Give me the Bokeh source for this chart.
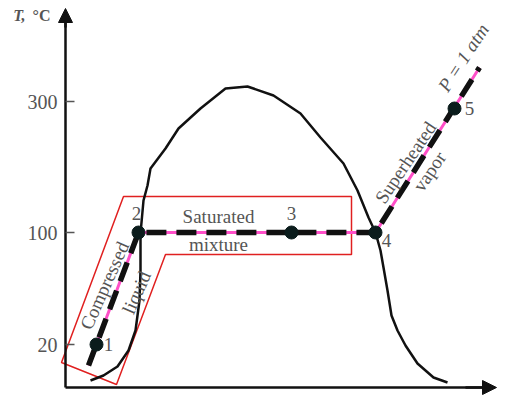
from bokeh.plotting import figure
from bokeh.models import Range1d, Label, Arrow, NormalHead, ColumnDataSource, FixedTicker, LinearAxis
from bokeh.core.properties import value
from bokeh.embed import file_html
from bokeh.resources import INLINE

# ---- data (schematic T-v diagram, water at P = 1 atm) ----
# temperature tick positions (schematic, non-linear axis) and their labels
t_tick_pos = [43, 155, 286]
t_tick_labels = ["20", "100", "300"]

# constant-pressure process line (P = 1 atm)
process_v = [23, 73, 310, 414]
process_T = [22, 155, 155, 320]

# states 1..5
state_v = [31, 73, 226, 310, 389]
state_T = [43, 155, 155, 155, 279]
state_names = ["1", "2", "3", "4", "5"]

# saturation dome
dome_v = [25, 38, 52, 63, 70, 74, 75, 75, 78, 82, 85, 100, 113, 135, 160, 182,
          208, 235, 255, 278, 292, 303, 310, 315, 318, 322, 326, 332, 340, 352, 368, 382]
dome_T = [7, 12, 21, 37, 57, 87, 117, 154, 187, 202, 219, 239, 259, 279, 299, 301,
          292, 274, 250, 224, 197, 170, 155, 137, 120, 97, 72, 57, 42, 24, 10, 5]

# highlighted region outline (compressed liquid + saturated mixture)
region_v = [58, 286, 286, 100, 51, -4]
region_T = [191, 191, 133, 133, 3, 25]

FONT = value("Liberation Serif")
GRAY = "#555555"
INK = "#111111"

p = figure(width=497, height=398, output_backend="svg", toolbar_location=None,
           x_range=Range1d(-65, 432), y_range=Range1d(-11, 387),
           x_axis_location=None, y_axis_location=None, min_border=0)
p.grid.visible = False
p.outline_line_color = None

# axes (placed at the origin of the schematic diagram)
yax = LinearAxis(fixed_location=0, bounds=(0, 372), ticker=FixedTicker(ticks=t_tick_pos))
yax.major_label_overrides = {pos: lab for pos, lab in zip(t_tick_pos, t_tick_labels)}
yax.major_label_text_font = "Liberation Serif"
yax.major_label_text_font_size = "20px"
yax.major_label_text_color = GRAY
yax.major_tick_in = 9
yax.major_tick_out = 0
yax.major_tick_line_color = GRAY
yax.major_tick_line_width = 1.5
yax.minor_tick_line_color = None
yax.major_label_standoff = 8
yax.axis_line_width = 2.5
yax.axis_line_color = INK
p.add_layout(yax, "left")

xax = LinearAxis(fixed_location=0, bounds=(0, 428), ticker=FixedTicker(ticks=[]))
xax.major_label_text_font_size = "0px"
xax.major_tick_line_color = None
xax.minor_tick_line_color = None
xax.axis_line_width = 2.5
xax.axis_line_color = INK
p.add_layout(xax, "below")

p.add_layout(Arrow(x_start=0, y_start=360, x_end=0, y_end=379, line_width=2.5, line_color=INK,
                   end=NormalHead(size=14, fill_color=INK, line_color=INK)))
p.add_layout(Arrow(x_start=400, y_start=0, x_end=431, y_end=0, line_width=2.5, line_color=INK,
                   end=NormalHead(size=14, fill_color=INK, line_color=INK)))

p.add_layout(Label(x=-40, y=372, text="T,", text_font="Liberation Serif",
                   text_font_style="bold italic", text_font_size="16px",
                   text_color=GRAY, text_align="right", text_baseline="middle"))
p.add_layout(Label(x=-33, y=372, text="°C", text_font="Liberation Serif",
                   text_font_style="bold", text_font_size="16px",
                   text_color=GRAY, text_align="left", text_baseline="middle"))

# region outline
p.patch(region_v, region_T, fill_alpha=0, line_color="#e02020", line_width=1.5)

# saturation dome
p.line(dome_v, dome_T, line_color=INK, line_width=2.5, line_join="round")

# process line
p.line(process_v, process_T, line_color="#ff4fc8", line_width=3)
p.line(process_v, process_T, line_color=INK, line_width=5.5, line_dash="20 10")

# states
src = ColumnDataSource(dict(v=state_v, T=state_T, name=state_names))
p.scatter("v", "T", source=src, size=13, fill_color="#0b1c1c", line_color="#0b1c1c")

label_off = {"1": (12, 0), "2": (-2, 19), "3": (0, 19), "4": (11, -8), "5": (15, 0)}
for v, T, n in zip(state_v, state_T, state_names):
    dx, dy = label_off[n]
    p.text(x=[v], y=[T], text=[n], x_offset=dx, y_offset=-dy, text_font=FONT,
           text_font_size="19px", text_color=GRAY, text_align="center",
           text_baseline="middle")

# annotations
def note(x, y, txt, angle=0, style="normal"):
    p.add_layout(Label(x=x, y=y, text=txt, angle=angle, angle_units="deg",
                       text_font="Liberation Serif", text_font_size="19px",
                       text_font_style=style, text_color=GRAY,
                       text_align="center", text_baseline="middle"))

note(153, 171, "Saturated")
note(153, 143, "mixture")
note(39, 102, "Compressed", 66)
note(71, 95, "liquid", 66)
note(340, 225, "Superheated", 56)
note(364, 216, "vapor", 56)
note(398, 330, "P = 1 atm", 57, "italic")

open("out.html", "w").write(file_html(p, INLINE))
